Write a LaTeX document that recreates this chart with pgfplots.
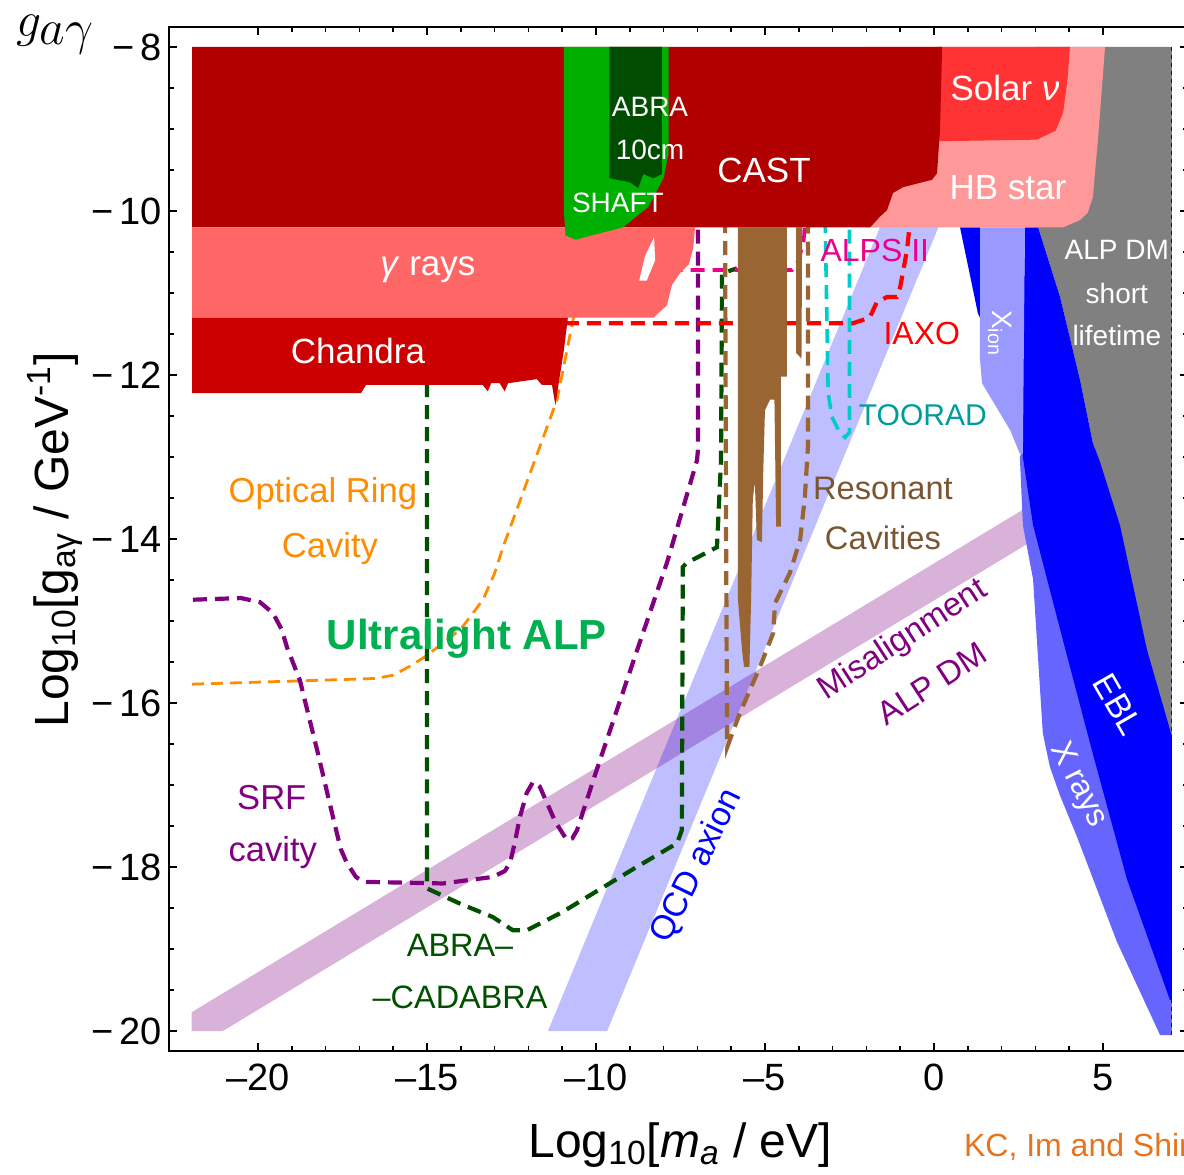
\documentclass[border=0pt]{standalone}
\usepackage{fontspec}
\setmainfont{Liberation Sans}
\usepackage{pgfplots}
\pgfplotsset{compat=1.18}

\newcommand{\fs}[1]{\fontsize{#1}{#1}\selectfont}

\definecolor{castred}{HTML}{B00000}
\definecolor{chandrared}{HTML}{CC0000}
\definecolor{gammared}{HTML}{FF6666}
\definecolor{solarred}{HTML}{FF3333}
\definecolor{hbpink}{HTML}{FF9999}
\definecolor{shaftgreen}{HTML}{00B000}
\definecolor{abragreen}{HTML}{004C00}
\definecolor{dmgray}{HTML}{808080}
\definecolor{eblblue}{HTML}{0000FF}
\definecolor{xrayblue}{HTML}{6666FF}
\definecolor{xionblue}{HTML}{9999FF}
\definecolor{rcbrown}{HTML}{996633}
\definecolor{rctext}{HTML}{7A5530}
\definecolor{ringorange}{HTML}{FF8C00}
\definecolor{srfpurple}{HTML}{800080}
\definecolor{cadgreen}{HTML}{005000}
\definecolor{tooradcyan}{HTML}{00CCCC}
\definecolor{tooradtext}{HTML}{009C9C}
\definecolor{ulgreen}{HTML}{00B050}
\definecolor{credit}{HTML}{E8731E}

\pgfplotsset{
  region/.style={draw=none, fill=#1},
  dline/.style={line width=2.1pt, dash pattern=on 7pt off 4pt},
  tline/.style={line width=1.8pt, dash pattern=on 7pt off 4pt},
}

\begin{document}
\begin{tikzpicture}
\begin{axis}[
  x=16.9pt, y=41pt,
  xmin=-22.633, xmax=7.52, ymin=-20.244, ymax=-7.756,
  clip=false,
  axis line style={line width=1pt},
  xtick={-20,-15,-10,-5,0,5},
  xticklabels={–20,–15,–10,–5,0,5},
  ytick={-20,-18,-16,-14,-12,-10,-8},
  yticklabels={−\,20,−\,18,−\,16,−\,14,−\,12,−\,10,−\,8},
  minor x tick num=4, minor y tick num=3,
  tick align=inside,
  major tick length=4pt, minor tick length=2.5pt,
  tick style={black, line width=0.8pt},
  tick label style={font=\fs{19}},
  xticklabel style={yshift=-3pt},
]

% --- translucent theory bands ---
\addplot[region=srfpurple, fill opacity=0.3] coordinates {
  (-21.96,-19.77) (3.0,-13.55) (3.0,-14.0) (-21.04,-20) (-21.96,-20)};
\addplot[region=eblblue, fill opacity=0.25] coordinates {
  (-11.42,-20) (-9.67,-20) (0.33,-10.0) (-1.4,-10.0)};

% --- astrophysical bounds on the right ---
\addplot[region=xrayblue] coordinates {
  (2.63,-12.9) (2.54,-13.0) (2.63,-13.83) (2.93,-14.49) (3.22,-16.37)
  (3.43,-16.78) (3.73,-17.13) (4.23,-17.63) (5.41,-18.91) (6.69,-20.05)
  (7.04,-20.05) (7.04,-12.9)};
\addplot[region=dmgray] coordinates {
  (3.0,-8) (7.04,-8) (7.04,-16.41) (6.30,-15.35) (5.50,-13.83) (4.91,-13.06)
  (4.70,-12.83) (4.32,-12.06) (3.73,-11.05) (3.08,-10.2) (3.0,-10.2)};
\addplot[region=eblblue] coordinates {
  (2.69,-10.2) (3.08,-10.2) (3.73,-11.05) (4.32,-12.06) (4.70,-12.83)
  (4.91,-13.06) (5.50,-13.83) (6.30,-15.35) (7.04,-16.41) (7.04,-19.62)
  (6.98,-19.62) (5.71,-18.15) (4.70,-16.62) (3.73,-15.10) (2.93,-13.83)
  (2.63,-13.0) (2.63,-12.0)};
\addplot[region=xionblue] coordinates {
  (1.36,-10.2) (2.69,-10.2) (2.63,-12.96) (2.54,-12.96) (2.25,-12.67)
  (1.42,-12.10) (1.36,-11.8)};
\addplot[region=eblblue] coordinates {
  (0.77,-10.2) (1.36,-10.2) (1.36,-11.3) (1.30,-11.25)};
\addplot[blue, line width=0.5pt, dash pattern=on 2pt off 2pt] coordinates {(7.04,-8) (7.04,-20.05)};

% --- projected sensitivities (dashed) ---
\addplot[ringorange, line width=1.4pt, dash pattern=on 6pt off 3.5pt] coordinates {
  (-21.95,-15.77) (-18,-15.72) (-16.5,-15.7) (-16.0,-15.66) (-15.5,-15.55)
  (-15.0,-15.42) (-14.0,-15.1) (-13.34,-14.74) (-13.0,-14.42) (-12.75,-14.1)
  (-11.95,-13.2) (-11.15,-12.3) (-10.68,-11.33) (-10.6,-11.2)};
\addplot[srfpurple, dline] coordinates {
  (-21.92,-14.74) (-20.5,-14.72) (-19.94,-14.77) (-19.56,-14.90) (-19.3,-15.1)
  (-19.14,-15.32) (-18.76,-15.72) (-18.25,-16.57) (-17.78,-17.39) (-17.55,-17.78)
  (-17.37,-17.95) (-17.1,-18.12) (-16.89,-18.18) (-14.53,-18.20) (-13.05,-18.12)
  (-12.7,-18.05) (-12.54,-17.95) (-12.4,-17.7) (-12.25,-17.39) (-12.05,-17.1)
  (-11.86,-16.96) (-11.72,-17.0) (-11.66,-17.02) (-11.2,-17.45) (-10.86,-17.67)
  (-10.7,-17.65) (-10.56,-17.55) (-10.03,-16.88) (-8.91,-15.51) (-7.90,-14.29)
  (-7.01,-13.04) (-6.98,-12.9) (-6.98,-10.1)};
\addplot[cadgreen, dline] coordinates {
  (-15,-12.1) (-15,-18.26) (-14.0,-18.45) (-13.05,-18.61) (-12.46,-18.77)
  (-12.04,-18.77) (-11.0,-18.55) (-10.0,-18.3) (-8.8,-18.0) (-7.6,-17.71)
  (-7.46,-17.55) (-7.43,-14.34) (-7.31,-14.29) (-6.42,-14.10) (-6.30,-13.04)
  (-6.27,-10.76) (-5.83,-10.70)};
\addplot[magenta, tline] coordinates {
  (-7.85,-10.72) (-4.2,-10.72) (-4.0,-10.6) (-3.85,-10.35) (-3.82,-10.1)};
\addplot[red, dline] coordinates {
  (-10.92,-11.37) (-2.4,-11.37) (-1.9,-11.3) (-1.7,-11.12) (-1.4,-11.05)
  (-1.1,-11.05) (-1.0,-10.93) (-0.8,-10.48) (-0.7,-10.1)};
\addplot[tooradcyan, tline] coordinates {
  (-3.22,-10.1) (-3.13,-12.22) (-3.02,-12.51) (-2.78,-12.71) (-2.63,-12.76)
  (-2.50,-12.70) (-2.50,-10.1)};
\addplot[rcbrown, dline] coordinates {
  (-6.18,-10.1) (-6.15,-14) (-6.12,-16.54) (-5.74,-16.12) (-5.15,-15.56)
  (-4.76,-15.15) (-4.70,-14.78) (-4.26,-14.41) (-3.96,-14.01) (-3.82,-13.49)
  (-3.73,-12.88) (-3.73,-10.1)};

% --- resonant cavity exclusions ---
\addplot[region=rcbrown] coordinates {
  (-5.80,-10.2) (-5.80,-14.74) (-5.68,-15.35) (-5.62,-15.56) (-5.46,-15.56)
  (-5.41,-14.74) (-5.36,-13.52) (-5.30,-13.3) (-5.24,-14.01) (-5.09,-14.04)
  (-5.05,-13.16) (-5.0,-12.43) (-4.85,-12.30) (-4.72,-12.30) (-4.67,-13.85)
  (-4.53,-13.85) (-4.53,-12.02) (-4.35,-12.02) (-4.35,-10.2)};
\addplot[region=rcbrown] coordinates {
  (-4.08,-10.2) (-4.08,-11.73) (-3.92,-11.80) (-3.90,-10.2)};

% --- stellar and helioscope bounds ---
\addplot[region=hbpink] coordinates {
  (-2.0,-8) (5.06,-8) (4.85,-9.13) (4.70,-9.83) (4.55,-10.02) (4.32,-10.11)
  (3.82,-10.2) (-2.0,-10.2)};
\addplot[region=solarred] coordinates {
  (0.1,-8) (4.02,-8) (3.95,-8.4) (3.82,-8.8) (3.6,-9.02) (3.05,-9.13) (0.1,-9.15)};
\addplot[region=castred] coordinates {
  (-21.95,-8) (0.24,-8) (0.18,-9.0) (0.09,-9.54) (-0.06,-9.62) (-0.92,-9.71)
  (-1.21,-9.78) (-1.39,-9.99) (-1.60,-10.07) (-1.89,-10.2) (-21.95,-10.2)};
\addplot[region=gammared] coordinates {
  (-21.95,-10.2) (-7.07,-10.2) (-7.12,-10.45) (-7.25,-10.65) (-7.5,-10.75)
  (-7.75,-10.9) (-7.9,-11.15) (-8.3,-11.3) (-21.95,-11.3)};
\addplot[region=white] coordinates {
  (-8.28,-10.32) (-8.25,-10.6) (-8.5,-10.85) (-8.72,-10.85) (-8.55,-10.55)};
\addplot[region=chandrared] coordinates {
  (-21.95,-11.3) (-10.83,-11.3) (-10.95,-11.7) (-11.12,-12.15) (-11.2,-12.37)
  (-11.3,-12.12) (-11.6,-12.12) (-11.75,-12.05) (-12.6,-12.1) (-12.7,-12.2)
  (-12.85,-12.1) (-13.1,-12.1) (-13.2,-12.2) (-13.35,-12.12) (-16.8,-12.12)
  (-16.95,-12.22) (-21.95,-12.22)};
\addplot[region=shaftgreen] coordinates {
  (-10.95,-8) (-7.85,-8) (-7.85,-9.3) (-8.0,-9.6) (-8.45,-9.95) (-9.2,-10.2)
  (-10.15,-10.3) (-10.6,-10.35) (-10.9,-10.3) (-10.95,-10.0)};
\addplot[region=abragreen] coordinates {
  (-9.6,-8) (-8.05,-8) (-8.05,-9.55) (-8.3,-9.6) (-8.6,-9.55) (-8.75,-9.72)
  (-9.0,-9.65) (-9.6,-9.6)};

% --- labels ---
\node[white, font=\fs{14}] at (axis cs:-8.40,-8.73) {ABRA};
\node[white, font=\fs{14}] at (axis cs:-8.40,-9.26) {10cm};
\node[white, font=\fs{14}] at (axis cs:-9.35,-9.90) {SHAFT};
\node[white, font=\fs{17.5}] at (axis cs:-5.03,-9.50) {CAST};
\node[white, font=\fs{17.5}] at (axis cs:2.10,-8.50) {Solar \textit{ν}};
\node[white, font=\fs{17.5}] at (axis cs:2.19,-9.71) {HB star};
\node[white, font=\fs{17.5}] at (axis cs:-14.97,-10.72) {\textit{γ} rays};
\node[white, font=\fs{17.5}] at (axis cs:-17.04,-11.71) {Chandra};
\node[magenta, font=\fs{16}] at (axis cs:-1.75,-10.48) {ALPS II};
\node[red, font=\fs{16}] at (axis cs:-0.36,-11.49) {IAXO};
\node[tooradtext, font=\fs{15}] at (axis cs:-0.33,-12.49) {TOORAD};
\node[white, rotate=-90, font=\fs{14}] at (axis cs:1.95,-11.49) {X\textsubscript{ion}};
\node[white, font=\fs{14}] at (axis cs:5.41,-10.48) {ALP DM};
\node[white, font=\fs{14}] at (axis cs:5.41,-11.0) {short};
\node[white, font=\fs{14}] at (axis cs:5.41,-11.52) {lifetime};
\node[rctext, font=\fs{16.3}] at (axis cs:-1.51,-13.38) {Resonant};
\node[rctext, font=\fs{16.3}] at (axis cs:-1.51,-13.99) {Cavities};
\node[ringorange, font=\fs{17.3}] at (axis cs:-18.08,-13.45) {Optical Ring};
\node[ringorange, font=\fs{17.3}] at (axis cs:-17.87,-14.12) {Cavity};
\node[ulgreen, font=\fs{21}\bfseries] at (axis cs:-13.82,-15.21) {Ultralight ALP};
\node[srfpurple, font=\fs{17.3}] at (axis cs:-19.59,-17.15) {SRF};
\node[srfpurple, font=\fs{17.3}] at (axis cs:-19.56,-17.82) {cavity};
\node[cadgreen, font=\fs{16.2}] at (axis cs:-14.02,-18.96) {ABRA–};
\node[cadgreen, font=\fs{16.2}] at (axis cs:-14.02,-19.59) {–CADABRA};
\node[blue, rotate=64, font=\fs{17}] at (axis cs:-7.01,-17.99) {QCD axion};
\node[srfpurple, rotate=33, font=\fs{16.5}] at (axis cs:-0.92,-15.23) {Misalignment};
\node[srfpurple, rotate=33, font=\fs{16.5}] at (axis cs:-0.06,-15.76) {ALP DM};
\node[white, rotate=-60, font=\fs{17}] at (axis cs:5.44,-16.02) {EBL};
\node[white, rotate=-63, font=\fs{16}] at (axis cs:4.26,-17.0) {X rays};

% --- axis titles and credit ---
\node[font=\fs{24}] at (axis cs:-7.51,-21.39)
  {Log\textsubscript{10}[\textit{m}\textsubscript{\textit{a}} / eV]};
\node[font=\fs{24}, rotate=90] at (axis cs:-26.0,-14.01)
  {Log\textsubscript{10}[g\textsubscript{aγ} / GeV\textsuperscript{-1}]};
\node[font=\fs{26}, inner sep=0pt] at (axis cs:-26.0,-7.85) {$g_{\textstyle a\gamma}$};
\node[credit, anchor=west, font=\fs{16}] at (axis cs:0.68,-21.41) {KC, Im and Shin};

\coordinate (BL) at (axis cs:-27.63,-21.744);
\coordinate (TR) at (axis cs:7.396,-7.427);
\end{axis}
\pgfresetboundingbox
\path[use as bounding box] (BL) rectangle (TR);
\end{tikzpicture}
\end{document}
